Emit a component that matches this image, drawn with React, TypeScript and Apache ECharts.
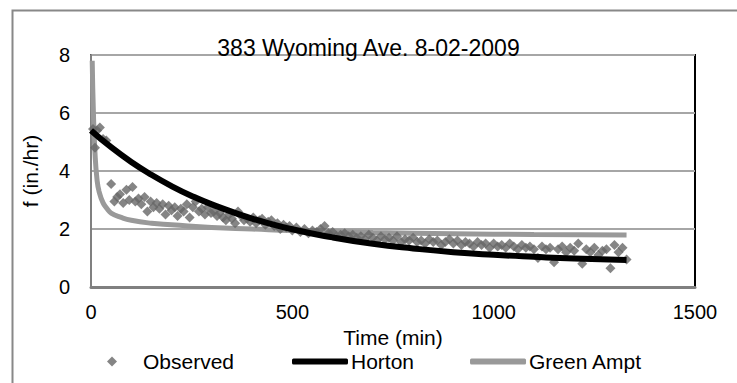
import React, { useEffect, useRef } from "react";
import * as echarts from "echarts";

const chartTitle = "383 Wyoming Ave. 8-02-2009";
const xTitle = "Time (min)";
const yTitle = "f (in./hr)";

const obsTime = [5, 10, 15, 22, 30, 38, 50, 58, 65, 72, 80, 88, 95, 103, 110, 118, 125, 133, 140, 148, 155, 163, 170, 178, 185, 193, 200, 208, 215, 223, 230, 238, 245, 253, 260, 268, 275, 283, 290, 298, 305, 313, 320, 328, 335, 343, 350, 358, 365, 373, 380, 388, 395, 403, 410, 418, 425, 433, 440, 448, 455, 463, 470, 478, 485, 493, 500, 510, 520, 530, 540, 550, 560, 570, 580, 590, 600, 610, 620, 630, 640, 650, 660, 670, 680, 690, 700, 710, 720, 730, 740, 750, 760, 770, 780, 790, 800, 810, 820, 830, 840, 850, 860, 870, 880, 890, 900, 910, 920, 930, 940, 950, 960, 970, 980, 990, 1000, 1010, 1020, 1030, 1040, 1050, 1060, 1070, 1080, 1090, 1100, 1110, 1120, 1130, 1140, 1150, 1160, 1170, 1180, 1190, 1200, 1210, 1220, 1230, 1240, 1250, 1260, 1270, 1280, 1290, 1300, 1310, 1320, 1330];
const obsRate = [5.45, 4.8, 5.4, 5.5, 5.1, 5.05, 3.55, 2.95, 3.1, 3.2, 2.9, 3.35, 3.0, 3.45, 2.95, 3.05, 2.85, 3.1, 2.6, 2.95, 2.75, 2.9, 2.7, 2.85, 2.5, 2.8, 2.65, 2.75, 2.45, 2.7, 2.6, 2.85, 2.4, 2.75, 2.95, 2.6, 2.7, 2.5, 2.75, 2.55, 2.6, 2.45, 2.55, 2.4, 2.3, 2.5, 2.35, 2.2, 2.6, 2.45, 2.3, 2.35, 2.25, 2.4, 2.2, 2.3, 2.35, 2.15, 2.25, 2.3, 2.1, 2.2, 2.0, 2.15, 2.05, 2.1, 1.95, 2.05, 1.9, 2.0, 1.85, 1.95, 1.9, 2.0, 2.1, 1.85, 1.9, 1.75, 1.8, 1.85, 1.75, 1.8, 1.7, 1.75, 1.65, 1.8, 1.7, 1.6, 1.75, 1.65, 1.7, 1.6, 1.75, 1.55, 1.65, 1.6, 1.7, 1.55, 1.6, 1.5, 1.65, 1.55, 1.6, 1.45, 1.55, 1.65, 1.5, 1.6, 1.45, 1.55, 1.5, 1.4, 1.55, 1.45, 1.5, 1.35, 1.5, 1.4, 1.45, 1.35, 1.5, 1.4, 1.3, 1.45, 1.35, 1.4, 1.3, 1.0, 1.4, 1.3, 1.35, 0.85, 1.3, 1.4, 1.2, 1.35, 1.25, 1.5, 0.8, 1.3, 1.2, 1.35, 1.1, 1.25, 1.3, 0.65, 1.45, 1.2, 1.35, 0.95];

const hortonTime = [0, 50, 100, 150, 200, 250, 300, 400, 500, 600, 700, 800, 900, 1000, 1100, 1200, 1330];
const hortonRate = [5.4, 4.82, 4.31, 3.87, 3.48, 3.14, 2.85, 2.36, 1.99, 1.71, 1.49, 1.33, 1.2, 1.11, 1.04, 0.98, 0.93];

const gaTime = [3, 6, 10, 15, 20, 30, 40, 50, 75, 100, 150, 200, 300, 400, 500, 700, 900, 1100, 1330];
const gaRate = [7.8, 6.0, 4.6, 3.7, 3.3, 2.9, 2.7, 2.55, 2.4, 2.3, 2.2, 2.15, 2.05, 2.0, 1.95, 1.88, 1.84, 1.81, 1.79];

const xTicks = { min: 0, max: 1500, interval: 500 };
const yTicks = { min: 0, max: 8, interval: 2 };

const FONT = "Liberation Sans";

export default function App() {
  const ref = useRef<HTMLDivElement>(null);
  useEffect(() => {
    if (!ref.current) return;
    const chart = echarts.init(ref.current, null, { renderer: "svg" });
    const zip = (a: number[], b: number[]) => a.map((v, i) => [v, b[i]]);
    chart.setOption({
      animation: false,
      backgroundColor: "#ffffff",
      title: {
        text: chartTitle,
        left: "center",
        top: 31,
        textStyle: { fontFamily: FONT, fontSize: 23, fontWeight: "normal", color: "#000" },
      },
      grid: { left: 91, right: 42, top: 55, bottom: 96, show: true, borderColor: "#000", borderWidth: 2 },
      xAxis: {
        type: "value",
        ...xTicks,
        name: xTitle,
        nameLocation: "middle",
        nameGap: 26,
        nameTextStyle: { fontFamily: FONT, fontSize: 21, color: "#000", verticalAlign: "top", lineHeight: 22 },
        axisLine: { show: true, lineStyle: { color: "#808080", width: 3 } },
        axisTick: { show: false },
        splitLine: { show: false },
        axisLabel: { fontFamily: FONT, fontSize: 20, color: "#000", margin: 15, formatter: (v: number) => String(v) },
      },
      yAxis: {
        type: "value",
        ...yTicks,
        name: yTitle,
        nameLocation: "middle",
        nameGap: 50,
        nameTextStyle: { fontFamily: FONT, fontSize: 21, color: "#000" },
        axisLine: { show: true, lineStyle: { color: "#808080", width: 2 } },
        axisTick: { show: false },
        splitLine: { show: true, lineStyle: { color: "#a6a6a6", width: 2 } },
        axisLabel: { fontFamily: FONT, fontSize: 20, color: "#000", margin: 21, formatter: (v: number) => String(v) },
      },
      legend: [
        {
          bottom: 11,
          left: 107,
          padding: 0,
          itemWidth: 10,
          itemHeight: 10,
          textStyle: { fontFamily: FONT, fontSize: 21, color: "#000", padding: [0, 0, 0, 21], lineHeight: 21 },
          data: [{ name: "Observed", icon: "diamond" }],
        },
        {
          bottom: 11,
          left: 292,
          padding: 0,
          itemWidth: 56,
          itemHeight: 6,
          itemGap: 56,
          textStyle: { fontFamily: FONT, fontSize: 21, color: "#000", padding: [0, 0, 0, -2], lineHeight: 21 },
          data: [
            { name: "Horton", icon: "roundRect" },
            { name: "Green Ampt", icon: "roundRect" },
          ],
        },
      ],
      graphic: [
        {
          type: "rect",
          left: 10,
          top: 8,
          shape: { width: 740, height: 400 },
          style: { fill: "none", stroke: "#888", lineWidth: 2 },
          silent: true,
        },
      ],
      series: [
        {
          name: "Observed",
          type: "scatter",
          symbol: "diamond",
          symbolSize: 10,
          itemStyle: { color: "#666666" },
          data: zip(obsTime, obsRate),
          z: 3,
        },
        {
          name: "Horton",
          type: "line",
          smooth: true,
          symbol: "none",
          lineStyle: { color: "#000000", width: 6 },
          itemStyle: { color: "#000000" },
          data: zip(hortonTime, hortonRate),
          z: 4,
        },
        {
          name: "Green Ampt",
          type: "line",
          smooth: true,
          symbol: "none",
          lineStyle: { color: "#999999", width: 5 },
          itemStyle: { color: "#999999" },
          data: zip(gaTime, gaRate),
          z: 2,
        },
      ],
    });
    return () => chart.dispose();
  }, []);
  return <div ref={ref} style={{ width: 737, height: 383, position: "absolute", left: 0, top: 0 }} />;
}
